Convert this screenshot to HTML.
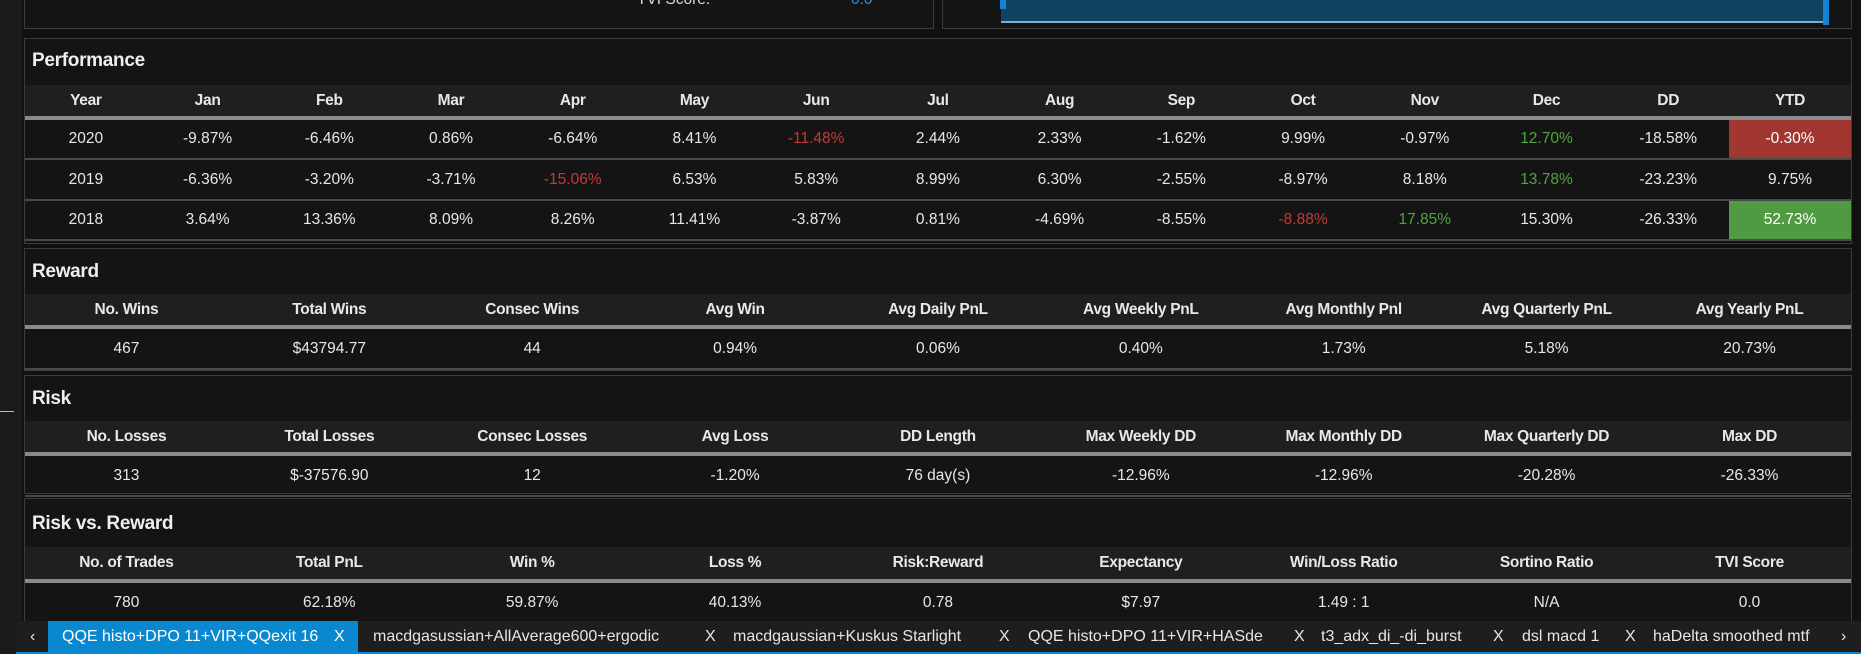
<!DOCTYPE html>
<html><head><meta charset="utf-8"><style>
*{box-sizing:border-box;margin:0;padding:0}
body{width:1861px;height:654px;background:#111;overflow:hidden;font-family:"Liberation Sans",sans-serif;color:#e6e6e6;position:relative}
.abs{position:absolute}
.panel{position:absolute;left:24px;width:1828px;border:1px solid #3c3c3c;background:#141414}
.title{position:absolute;left:7px;font-size:19px;font-weight:bold;color:#eee;letter-spacing:-0.3px}
table{position:absolute;left:0;width:1826px;border-collapse:collapse;table-layout:fixed}
th{background:#1f1f1f;font-size:15.5px;font-weight:bold;color:#e8e8e8;border-bottom:4px solid #8a8a8a;letter-spacing:-0.3px}
td{text-align:center;font-size:15.5px;color:#e8e8e8;border-bottom:2px solid #4a4a4a}
.r{color:#c43a34}.g{color:#4fa53f}
.rb{background:#a23631;color:#fff}.gb{background:#4f9a42;color:#fff}
.tab{position:absolute;top:0;height:31px;line-height:31px;font-size:16px;color:#e6e6e6;white-space:nowrap}
</style></head><body>
<div class="abs" style="left:0;top:0;width:22px;height:654px;background:#1a1a1a"></div>
<div class="abs" style="left:0;top:411px;width:14px;height:1px;background:#bbb"></div>
<div class="abs" style="left:24px;top:-2px;width:910px;height:31px;border:1px solid #3c3c3c;background:#141414">
 <div class="abs" style="left:612px;top:-8px;font-size:15.5px;color:#ddd">TVI Score:</div>
 <div class="abs" style="left:826px;top:-8px;font-size:15.5px;color:#2a8fd8">0.0</div>
</div>
<div class="abs" style="left:942px;top:-2px;width:910px;height:31px;border:1px solid #3c3c3c;background:#141414">
 <div class="abs" style="left:58px;top:0;width:827px;height:24px;background:#0f4362;border-bottom:2px solid #7ab0cc"></div>
 <div class="abs" style="left:880px;top:0;width:6px;height:26px;background:#1585d1"></div>
 <div class="abs" style="left:57px;top:0;width:6px;height:10px;background:#1585d1"></div>
</div>
<div class="panel" style="top:38px;height:206px">
 <div class="title" style="top:11px">Performance</div>
 <table style="top:46px">
  <tr style="height:33px"><th>Year</th><th>Jan</th><th>Feb</th><th>Mar</th><th>Apr</th><th>May</th><th>Jun</th><th>Jul</th><th>Aug</th><th>Sep</th><th>Oct</th><th>Nov</th><th>Dec</th><th>DD</th><th>YTD</th></tr>
  <tr style="height:41px"><td>2020</td><td>-9.87%</td><td>-6.46%</td><td>0.86%</td><td>-6.64%</td><td>8.41%</td><td class="r">-11.48%</td><td>2.44%</td><td>2.33%</td><td>-1.62%</td><td>9.99%</td><td>-0.97%</td><td class="g">12.70%</td><td>-18.58%</td><td class="rb">-0.30%</td></tr>
  <tr style="height:41px"><td>2019</td><td>-6.36%</td><td>-3.20%</td><td>-3.71%</td><td class="r">-15.06%</td><td>6.53%</td><td>5.83%</td><td>8.99%</td><td>6.30%</td><td>-2.55%</td><td>-8.97%</td><td>8.18%</td><td class="g">13.78%</td><td>-23.23%</td><td>9.75%</td></tr>
  <tr style="height:40px"><td>2018</td><td>3.64%</td><td>13.36%</td><td>8.09%</td><td>8.26%</td><td>11.41%</td><td>-3.87%</td><td>0.81%</td><td>-4.69%</td><td>-8.55%</td><td class="r">-8.88%</td><td class="g">17.85%</td><td>15.30%</td><td>-26.33%</td><td class="gb">52.73%</td></tr>
 </table>
</div>
<div class="panel" style="top:248px;height:123px">
 <div class="title" style="top:12px">Reward</div>
 <table style="top:45px">
  <tr style="height:33px"><th>No. Wins</th><th>Total Wins</th><th>Consec Wins</th><th>Avg Win</th><th>Avg Daily PnL</th><th>Avg Weekly PnL</th><th>Avg Monthly Pnl</th><th>Avg Quarterly PnL</th><th>Avg Yearly PnL</th></tr>
  <tr style="height:42px"><td>467</td><td>$43794.77</td><td>44</td><td>0.94%</td><td>0.06%</td><td>0.40%</td><td>1.73%</td><td>5.18%</td><td>20.73%</td></tr>
 </table>
</div>
<div class="panel" style="top:375px;height:119px">
 <div class="title" style="top:12px">Risk</div>
 <table style="top:45px">
  <tr style="height:33px"><th>No. Losses</th><th>Total Losses</th><th>Consec Losses</th><th>Avg Loss</th><th>DD Length</th><th>Max Weekly DD</th><th>Max Monthly DD</th><th>Max Quarterly DD</th><th>Max DD</th></tr>
  <tr style="height:42px"><td>313</td><td>$-37576.90</td><td>12</td><td>-1.20%</td><td>76 day(s)</td><td>-12.96%</td><td>-12.96%</td><td>-20.28%</td><td>-26.33%</td></tr>
 </table>
</div>
<div class="panel" style="top:498px;height:124px">
 <div class="title" style="top:14px">Risk vs. Reward</div>
 <table style="top:48px">
  <tr style="height:34px"><th>No. of Trades</th><th>Total PnL</th><th>Win %</th><th>Loss %</th><th>Risk:Reward</th><th>Expectancy</th><th>Win/Loss Ratio</th><th>Sortino Ratio</th><th>TVI Score</th></tr>
  <tr style="height:42px"><td style="border:0">780</td><td style="border:0">62.18%</td><td style="border:0">59.87%</td><td style="border:0">40.13%</td><td style="border:0">0.78</td><td style="border:0">$7.97</td><td style="border:0">1.49 : 1</td><td style="border:0">N/A</td><td style="border:0">0.0</td></tr>
 </table>
</div>
<div class="abs" style="left:16px;top:621px;width:1845px;height:33px;background:#1e1e1e">
 <div class="tab" style="left:14px">‹</div>
 <div class="tab" style="left:32px;width:310px;background:#0a88cf;padding-left:14px;color:#fff">QQE histo+DPO 11+VIR+QQexit 16<span style="position:absolute;left:286px">X</span></div>
 <div class="tab" style="left:357px">macdgasussian+AllAverage600+ergodic</div>
 <div class="tab" style="left:689px">X</div>
 <div class="tab" style="left:717px">macdgaussian+Kuskus Starlight</div>
 <div class="tab" style="left:983px">X</div>
 <div class="tab" style="left:1012px">QQE histo+DPO 11+VIR+HASde</div>
 <div class="tab" style="left:1278px">X</div>
 <div class="tab" style="left:1305px">t3_adx_di_-di_burst</div>
 <div class="tab" style="left:1477px">X</div>
 <div class="tab" style="left:1506px">dsl macd 1</div>
 <div class="tab" style="left:1609px">X</div>
 <div class="tab" style="left:1637px;width:170px;overflow:hidden">haDelta smoothed mtf</div>
 <div class="tab" style="left:1825px">›</div>
 <div class="abs" style="left:0;top:31px;width:1845px;height:2px;background:#0a88cf"></div>
</div>
</body></html>
